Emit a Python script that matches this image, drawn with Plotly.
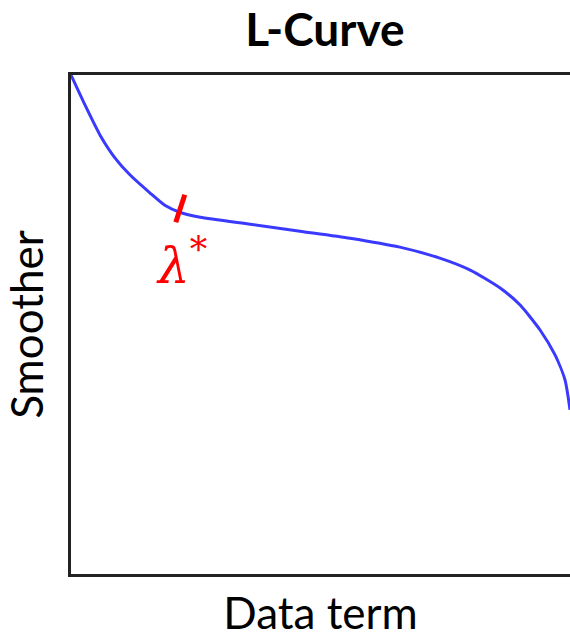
import plotly.graph_objects as go

# L-curve samples (data term vs smoother)
data_term = [0.0, 0.028, 0.058, 0.088, 0.118, 0.158, 0.188, 0.218, 0.259, 0.359,
             0.459, 0.559, 0.659, 0.739, 0.800, 0.860, 0.900, 0.940, 0.970, 0.990, 1.0]
smoother = [1.0, 0.940, 0.880, 0.834, 0.800, 0.764, 0.739, 0.725, 0.715, 0.701,
            0.687, 0.673, 0.655, 0.633, 0.609, 0.573, 0.539, 0.489, 0.439, 0.389, 0.329]

# chosen lambda tick mark and its label
lambda_tick_x = [0.210, 0.228]
lambda_tick_y = [0.705, 0.760]
lambda_label_x = 0.222
lambda_label_y = 0.625

fig = go.Figure()
fig.add_trace(go.Scatter(
    x=data_term, y=smoother, mode="lines",
    line=dict(color="#3a3aff", width=3, shape="spline", smoothing=0.6),
    hoverinfo="skip",
))
fig.add_trace(go.Scatter(
    x=lambda_tick_x, y=lambda_tick_y, mode="lines",
    line=dict(color="#ff0000", width=5),
    hoverinfo="skip",
))
fig.add_annotation(
    x=lambda_label_x, y=lambda_label_y, xref="x", yref="y",
    text="<i>λ</i><sup>*</sup>", showarrow=False,
    font=dict(family="DejaVu Serif", size=50, color="#ff0000"),
)

fig.update_layout(
    width=570, height=638,
    margin=dict(l=71, r=0, t=75, b=64),
    plot_bgcolor="white", paper_bgcolor="white",
    showlegend=False,
    font=dict(family="Lato", color="black"),
    title=dict(text="<b>L-Curve</b>", x=0.570, xanchor="center", y=0.953, yanchor="middle",
               font=dict(size=46, family="Lato")),
)
fig.update_xaxes(range=[0, 1], showgrid=False, zeroline=False, showticklabels=False,
                 ticks="", showline=True, linecolor="#222", linewidth=3, mirror=True,
                 title=dict(text="Data term", font=dict(size=44), standoff=24))
fig.update_yaxes(range=[0, 1], showgrid=False, zeroline=False, showticklabels=False,
                 ticks="", showline=True, linecolor="#222", linewidth=3,
                 title=dict(text="Smoother", font=dict(size=44), standoff=18))

# drop the default 8px body margin so the figure fills the window exactly
fig.write_html("out.html", config={"displayModeBar": False},
               post_script="document.body.style.margin='0';")
